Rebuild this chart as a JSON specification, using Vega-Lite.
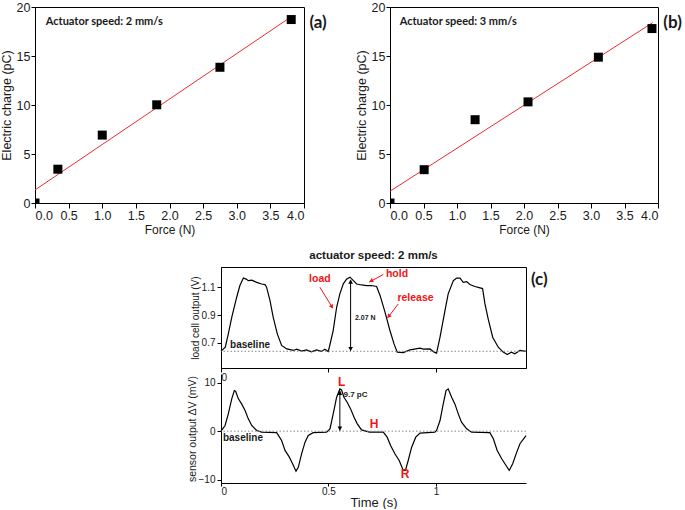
{
  "$schema": "https://vega.github.io/schema/vega-lite/v6.json",
  "background": "white",
  "padding": {"left": 0, "top": 0, "right": 0, "bottom": 0},
  "spacing": 13,
  "config": {
    "view": {"stroke": "black", "strokeWidth": 1},
    "axis": {"domainColor": "black", "tickColor": "black", "grid": false, "labelColor": "#1a1a1a", "titleColor": "#1a1a1a", "labelFont": "Liberation Sans", "titleFont": "Liberation Sans", "titleFontWeight": "normal", "labelOverlap": false}
  },
  "datasets": {
    "a_pts": [{"F": 0, "Q": 0}, {"F": 0.34, "Q": 3.45}, {"F": 1.0, "Q": 6.93}, {"F": 1.81, "Q": 10.02}, {"F": 2.75, "Q": 13.85}, {"F": 3.81, "Q": 18.72}],
    "a_fit": [{"F": 0, "Q": 1.33}, {"F": 3.82, "Q": 19.05}],
    "b_pts": [{"F": 0, "Q": 0}, {"F": 0.51, "Q": 3.4}, {"F": 1.27, "Q": 8.5}, {"F": 2.06, "Q": 10.32}, {"F": 3.11, "Q": 14.88}, {"F": 3.91, "Q": 17.8}],
    "b_fit": [{"F": 0, "Q": 1.2}, {"F": 3.92, "Q": 18.4}],
    "load": [
      {"t": 0, "V": 0.641}, {"t": 0.02, "V": 0.669}, {"t": 0.034, "V": 0.765}, {"t": 0.05, "V": 0.884}, {"t": 0.073, "V": 1.028}, {"t": 0.088, "V": 1.112}, {"t": 0.104, "V": 1.166}, {"t": 0.117, "V": 1.158}, {"t": 0.127, "V": 1.147}, {"t": 0.143, "V": 1.151}, {"t": 0.166, "V": 1.135}, {"t": 0.189, "V": 1.123}, {"t": 0.205, "V": 1.119}, {"t": 0.212, "V": 1.1}, {"t": 0.228, "V": 1.004}, {"t": 0.243, "V": 0.884}, {"t": 0.262, "V": 0.765}, {"t": 0.282, "V": 0.682}, {"t": 0.306, "V": 0.657}, {"t": 0.337, "V": 0.646}, {"t": 0.352, "V": 0.655}, {"t": 0.375, "V": 0.641}, {"t": 0.398, "V": 0.65}, {"t": 0.421, "V": 0.636}, {"t": 0.444, "V": 0.65}, {"t": 0.468, "V": 0.639}, {"t": 0.483, "V": 0.655}, {"t": 0.499, "V": 0.639},
      {"t": 0.504, "V": 0.669}, {"t": 0.522, "V": 0.789}, {"t": 0.538, "V": 0.956}, {"t": 0.553, "V": 1.052}, {"t": 0.569, "V": 1.124}, {"t": 0.584, "V": 1.158}, {"t": 0.6, "V": 1.172}, {"t": 0.616, "V": 1.147}, {"t": 0.631, "V": 1.123}, {"t": 0.654, "V": 1.116}, {"t": 0.677, "V": 1.112}, {"t": 0.7, "V": 1.112}, {"t": 0.724, "V": 1.105}, {"t": 0.74, "V": 1.041}, {"t": 0.763, "V": 0.921}, {"t": 0.786, "V": 0.789}, {"t": 0.805, "V": 0.693}, {"t": 0.82, "V": 0.634}, {"t": 0.848, "V": 0.631}, {"t": 0.879, "V": 0.65}, {"t": 0.926, "V": 0.662}, {"t": 0.941, "V": 0.655}, {"t": 0.972, "V": 0.657}, {"t": 0.992, "V": 0.634},
      {"t": 1.003, "V": 0.627}, {"t": 1.019, "V": 0.741}, {"t": 1.042, "V": 0.932}, {"t": 1.057, "V": 1.052}, {"t": 1.081, "V": 1.147}, {"t": 1.096, "V": 1.165}, {"t": 1.112, "V": 1.165}, {"t": 1.127, "V": 1.135}, {"t": 1.143, "V": 1.14}, {"t": 1.158, "V": 1.119}, {"t": 1.181, "V": 1.105}, {"t": 1.205, "V": 1.095}, {"t": 1.217, "V": 1.09}, {"t": 1.228, "V": 0.98}, {"t": 1.243, "V": 0.873}, {"t": 1.264, "V": 0.741}, {"t": 1.29, "V": 0.669}, {"t": 1.313, "V": 0.634}, {"t": 1.332, "V": 0.617}, {"t": 1.351, "V": 0.634}, {"t": 1.367, "V": 0.622}, {"t": 1.391, "V": 0.646}, {"t": 1.419, "V": 0.64}
    ],
    "sensor": [
      {"t": 0, "mV": 0}, {"t": 0.019, "mV": 1.17}, {"t": 0.034, "mV": 3.57}, {"t": 0.05, "mV": 6.67}, {"t": 0.062, "mV": 8.38}, {"t": 0.068, "mV": 8.25}, {"t": 0.081, "mV": 6.67}, {"t": 0.096, "mV": 5.63}, {"t": 0.112, "mV": 4.26}, {"t": 0.127, "mV": 2.54}, {"t": 0.143, "mV": 1.17}, {"t": 0.166, "mV": 0.14}, {"t": 0.189, "mV": -0.2}, {"t": 0.259, "mV": -0.3}, {"t": 0.282, "mV": -1.92}, {"t": 0.298, "mV": -3.98}, {"t": 0.318, "mV": -5.36}, {"t": 0.333, "mV": -6.74}, {"t": 0.349, "mV": -8.25}, {"t": 0.36, "mV": -7.42}, {"t": 0.375, "mV": -4.67}, {"t": 0.391, "mV": -2.27}, {"t": 0.406, "mV": -0.89}, {"t": 0.429, "mV": -0.3}, {"t": 0.491, "mV": -0.2},
      {"t": 0.507, "mV": 0.48}, {"t": 0.522, "mV": 3.57}, {"t": 0.538, "mV": 7.0}, {"t": 0.553, "mV": 8.73}, {"t": 0.561, "mV": 8.5}, {"t": 0.572, "mV": 7.0}, {"t": 0.587, "mV": 5.98}, {"t": 0.603, "mV": 4.6}, {"t": 0.619, "mV": 2.89}, {"t": 0.634, "mV": 1.51}, {"t": 0.654, "mV": 0.27}, {"t": 0.691, "mV": -0.2}, {"t": 0.755, "mV": -0.2}, {"t": 0.773, "mV": -1.24}, {"t": 0.789, "mV": -2.95}, {"t": 0.809, "mV": -4.67}, {"t": 0.829, "mV": -6.05}, {"t": 0.848, "mV": -8.11}, {"t": 0.858, "mV": -8.1}, {"t": 0.871, "mV": -6.05}, {"t": 0.887, "mV": -3.3}, {"t": 0.906, "mV": -1.24}, {"t": 0.926, "mV": -0.4}, {"t": 0.995, "mV": -0.2},
      {"t": 1.003, "mV": 0.14}, {"t": 1.019, "mV": 2.2}, {"t": 1.034, "mV": 5.63}, {"t": 1.047, "mV": 8.38}, {"t": 1.057, "mV": 8.73}, {"t": 1.073, "mV": 7.0}, {"t": 1.088, "mV": 5.63}, {"t": 1.104, "mV": 3.57}, {"t": 1.119, "mV": 1.86}, {"t": 1.143, "mV": 0.48}, {"t": 1.166, "mV": -0.2}, {"t": 1.251, "mV": -0.3}, {"t": 1.267, "mV": -1.58}, {"t": 1.285, "mV": -3.98}, {"t": 1.306, "mV": -5.7}, {"t": 1.326, "mV": -7.08}, {"t": 1.341, "mV": -8.1}, {"t": 1.357, "mV": -6.74}, {"t": 1.376, "mV": -4.33}, {"t": 1.391, "mV": -2.6}, {"t": 1.419, "mV": -0.9}
    ]
  },
  "vconcat": [
    {
      "bounds": "flush",
      "spacing": 86,
      "hconcat": [
        {
          "width": 269, "height": 196,
          "layer": [
            {"data": {"name": "a_fit"}, "mark": {"type": "line", "color": "#ee2a2a", "strokeWidth": 1},
              "encoding": {
                "x": {"field": "F", "type": "quantitative", "scale": {"domain": [0, 4], "nice": false}, "title": "Force (N)",
                  "axis": {"values": [0, 0.5, 1, 1.5, 2, 2.5, 3, 3.5, 4], "format": ".1f", "labelOverlap": false, "tickSize": 5, "labelFontSize": 12.5, "titleFontSize": 12, "labelPadding": 1, "titlePadding": 3}},
                "y": {"field": "Q", "type": "quantitative", "scale": {"domain": [0, 20], "nice": false}, "title": "Electric charge (pC)",
                  "axis": {"values": [0, 2.5, 5, 7.5, 10, 12.5, 15, 17.5, 20], "labelOverlap": false, "labelExpr": "datum.value % 5 === 0 ? format(datum.value, 'd') : ''", "tickSize": {"condition": {"test": "datum.value % 5 === 0", "value": 4}, "value": 2.5}, "labelFontSize": 12.5, "titleFontSize": 12.5, "labelPadding": 1, "titlePadding": 2.5}}
              }},
            {"data": {"name": "a_pts"}, "mark": {"type": "point", "shape": "square", "filled": true, "color": "black", "opacity": 1, "size": 81, "clip": true},
              "encoding": {
                "x": {"field": "F", "type": "quantitative", "scale": {"domain": [0, 4], "nice": false}, "title": "Force (N)",
                  "axis": {"values": [0, 0.5, 1, 1.5, 2, 2.5, 3, 3.5, 4], "format": ".1f", "labelOverlap": false, "tickSize": 5, "labelFontSize": 12.5, "titleFontSize": 12, "labelPadding": 1, "titlePadding": 3}},
                "y": {"field": "Q", "type": "quantitative", "scale": {"domain": [0, 20], "nice": false}, "title": "Electric charge (pC)",
                  "axis": {"values": [0, 2.5, 5, 7.5, 10, 12.5, 15, 17.5, 20], "labelOverlap": false, "labelExpr": "datum.value % 5 === 0 ? format(datum.value, 'd') : ''", "tickSize": {"condition": {"test": "datum.value % 5 === 0", "value": 4}, "value": 2.5}, "labelFontSize": 12.5, "titleFontSize": 12.5, "labelPadding": 1, "titlePadding": 2.5}}
              }},
            {"data": {"values": [{}]}, "mark": {"type": "text", "align": "left", "baseline": "middle", "font": "Lato", "fontWeight": "bold", "fontSize": 11, "color": "#1a1a1a"},
              "encoding": {
                "x": {"datum": 0.16, "title": "Force (N)", "axis": {"values": [0, 0.5, 1, 1.5, 2, 2.5, 3, 3.5, 4], "format": ".1f", "labelOverlap": false, "tickSize": 5, "labelFontSize": 12.5, "titleFontSize": 12, "labelPadding": 1, "titlePadding": 3}},
                "y": {"datum": 18.5}, "text": {"value": "Actuator speed: 2 mm/s"}}},
            {"data": {"values": [{}]}, "mark": {"type": "text", "align": "left", "baseline": "middle", "font": "Lato", "fontWeight": "bold", "fontSize": 17, "color": "#1a1a1a"},
              "encoding": {
                "x": {"datum": 4.08, "title": "Force (N)", "axis": {"values": [0, 0.5, 1, 1.5, 2, 2.5, 3, 3.5, 4], "format": ".1f", "labelOverlap": false, "tickSize": 5, "labelFontSize": 12.5, "titleFontSize": 12, "labelPadding": 1, "titlePadding": 3}},
                "y": {"datum": 18.4}, "text": {"value": "(a)"}}}
          ]
        },
        {
          "width": 268, "height": 196,
          "layer": [
            {"data": {"name": "b_fit"}, "mark": {"type": "line", "color": "#ee2a2a", "strokeWidth": 1},
              "encoding": {
                "x": {"field": "F", "type": "quantitative", "scale": {"domain": [0, 4], "nice": false}, "title": "Force (N)",
                  "axis": {"values": [0, 0.5, 1, 1.5, 2, 2.5, 3, 3.5, 4], "format": ".1f", "labelOverlap": false, "tickSize": 5, "labelFontSize": 12.5, "titleFontSize": 12, "labelPadding": 1, "titlePadding": 3}},
                "y": {"field": "Q", "type": "quantitative", "scale": {"domain": [0, 20], "nice": false}, "title": "Electric charge (pC)",
                  "axis": {"values": [0, 2.5, 5, 7.5, 10, 12.5, 15, 17.5, 20], "labelOverlap": false, "labelExpr": "datum.value % 5 === 0 ? format(datum.value, 'd') : ''", "tickSize": {"condition": {"test": "datum.value % 5 === 0", "value": 4}, "value": 2.5}, "labelFontSize": 12.5, "titleFontSize": 12.5, "labelPadding": 1, "titlePadding": 2.5}}
              }},
            {"data": {"name": "b_pts"}, "mark": {"type": "point", "shape": "square", "filled": true, "color": "black", "opacity": 1, "size": 81, "clip": true},
              "encoding": {
                "x": {"field": "F", "type": "quantitative", "scale": {"domain": [0, 4], "nice": false}, "title": "Force (N)",
                  "axis": {"values": [0, 0.5, 1, 1.5, 2, 2.5, 3, 3.5, 4], "format": ".1f", "labelOverlap": false, "tickSize": 5, "labelFontSize": 12.5, "titleFontSize": 12, "labelPadding": 1, "titlePadding": 3}},
                "y": {"field": "Q", "type": "quantitative", "scale": {"domain": [0, 20], "nice": false}, "title": "Electric charge (pC)",
                  "axis": {"values": [0, 2.5, 5, 7.5, 10, 12.5, 15, 17.5, 20], "labelOverlap": false, "labelExpr": "datum.value % 5 === 0 ? format(datum.value, 'd') : ''", "tickSize": {"condition": {"test": "datum.value % 5 === 0", "value": 4}, "value": 2.5}, "labelFontSize": 12.5, "titleFontSize": 12.5, "labelPadding": 1, "titlePadding": 2.5}}
              }},
            {"data": {"values": [{}]}, "mark": {"type": "text", "align": "left", "baseline": "middle", "font": "Lato", "fontWeight": "bold", "fontSize": 11, "color": "#1a1a1a"},
              "encoding": {
                "x": {"datum": 0.145, "title": "Force (N)", "axis": {"values": [0, 0.5, 1, 1.5, 2, 2.5, 3, 3.5, 4], "format": ".1f", "labelOverlap": false, "tickSize": 5, "labelFontSize": 12.5, "titleFontSize": 12, "labelPadding": 1, "titlePadding": 3}},
                "y": {"datum": 18.5}, "text": {"value": "Actuator speed: 3 mm/s"}}},
            {"data": {"values": [{}]}, "mark": {"type": "text", "align": "left", "baseline": "middle", "font": "Lato", "fontWeight": "bold", "fontSize": 17, "color": "#1a1a1a"},
              "encoding": {
                "x": {"datum": 4.08, "title": "Force (N)", "axis": {"values": [0, 0.5, 1, 1.5, 2, 2.5, 3, 3.5, 4], "format": ".1f", "labelOverlap": false, "tickSize": 5, "labelFontSize": 12.5, "titleFontSize": 12, "labelPadding": 1, "titlePadding": 3}},
                "y": {"datum": 18.4}, "text": {"value": "(b)"}}}
          ]
        }
      ]
    },
    {
      "spacing": 10,
      "hconcat": [
        {"width": 142, "height": 20, "view": {"stroke": null}, "data": {"values": [{}]}, "mark": "text", "encoding": {"text": {"value": ""}}},
        {
          "bounds": "flush",
          "spacing": 6,
          "vconcat": [
            {
              "width": 305, "height": 101,
              "title": {"text": "actuator speed: 2 mm/s", "font": "Liberation Sans", "fontSize": 11.5, "fontWeight": "bold", "color": "#1a1a1a", "offset": 6, "anchor": "middle"},
              "layer": [
                {"data": {"name": "load"}, "mark": {"type": "line", "color": "black", "strokeWidth": 1.2},
                  "encoding": {
                    "x": {"field": "t", "type": "quantitative", "scale": {"domain": [0, 1.419], "nice": false}, "title": null,
                      "axis": {"values": [0, 0.5, 1], "labelExpr": "datum.value === 0 ? '0' : ''", "tickSize": 4, "labelFontSize": 10, "labelPadding": 0}},
                    "y": {"field": "V", "type": "quantitative", "scale": {"domain": [0.52, 1.245], "nice": false, "zero": false}, "title": "load cell output (V)",
                      "axis": {"values": [0.7, 0.9, 1.1], "format": ".1f", "tickSize": 4, "labelFontSize": 10, "labelPadding": 2, "titleFontSize": 10, "titlePadding": 1}}
                  }},
                {"data": {"values": [{}]}, "mark": {"type": "rule", "color": "#888", "strokeDash": [1.5, 2], "strokeWidth": 1},
                  "encoding": {"y": {"datum": 0.64}}},
                {"data": {"values": [{}]}, "mark": {"type": "rule", "color": "black", "strokeWidth": 1},
                  "encoding": {"x": {"datum": 0.603}, "y": {"datum": 1.15}, "y2": {"datum": 0.645}}},
                {"data": {"values": [{}]}, "mark": {"type": "point", "shape": "triangle-up", "filled": true, "color": "black", "opacity": 1, "size": 22},
                  "encoding": {"x": {"datum": 0.603}, "y": {"datum": 1.14}}},
                {"data": {"values": [{}]}, "mark": {"type": "point", "shape": "triangle-down", "filled": true, "color": "black", "opacity": 1, "size": 22},
                  "encoding": {"x": {"datum": 0.603}, "y": {"datum": 0.657}}},
                {"data": {"values": [{}]}, "mark": {"type": "rule", "color": "#f01515", "strokeWidth": 1},
                  "encoding": {"x": {"datum": 0.46}, "y": {"datum": 1.10}, "x2": {"datum": 0.52}, "y2": {"datum": 0.95}}},
                {"data": {"values": [{}]}, "mark": {"type": "point", "shape": "triangle-up", "filled": true, "color": "#f01515", "opacity": 1, "size": 22, "angle": 148},
                  "encoding": {"x": {"datum": 0.516}, "y": {"datum": 0.959}}},
                {"data": {"values": [{}]}, "mark": {"type": "rule", "color": "#f01515", "strokeWidth": 1},
                  "encoding": {"x": {"datum": 0.755}, "y": {"datum": 1.191}, "x2": {"datum": 0.69}, "y2": {"datum": 1.137}}},
                {"data": {"values": [{}]}, "mark": {"type": "point", "shape": "triangle-up", "filled": true, "color": "#f01515", "opacity": 1, "size": 22, "angle": 242},
                  "encoding": {"x": {"datum": 0.698}, "y": {"datum": 1.145}}},
                {"data": {"values": [{}]}, "mark": {"type": "rule", "color": "#f01515", "strokeWidth": 1},
                  "encoding": {"x": {"datum": 0.825}, "y": {"datum": 0.98}, "x2": {"datum": 0.775}, "y2": {"datum": 0.88}}},
                {"data": {"values": [{}]}, "mark": {"type": "point", "shape": "triangle-up", "filled": true, "color": "#f01515", "opacity": 1, "size": 22, "angle": 218},
                  "encoding": {"x": {"datum": 0.78}, "y": {"datum": 0.891}}},
                {"data": {"values": [{}]}, "mark": {"type": "text", "align": "center", "baseline": "middle", "font": "Liberation Sans", "fontWeight": "bold", "fontSize": 10.5, "color": "#f01515"},
                  "encoding": {"x": {"datum": 0.46}, "y": {"datum": 1.157}, "text": {"value": "load"}}},
                {"data": {"values": [{}]}, "mark": {"type": "text", "align": "center", "baseline": "middle", "font": "Liberation Sans", "fontWeight": "bold", "fontSize": 10.5, "color": "#f01515"},
                  "encoding": {"x": {"datum": 0.819}, "y": {"datum": 1.193}, "text": {"value": "hold"}}},
                {"data": {"values": [{}]}, "mark": {"type": "text", "align": "center", "baseline": "middle", "font": "Liberation Sans", "fontWeight": "bold", "fontSize": 10.5, "color": "#f01515"},
                  "encoding": {"x": {"datum": 0.905}, "y": {"datum": 1.021}, "text": {"value": "release"}}},
                {"data": {"values": [{}]}, "mark": {"type": "text", "align": "left", "baseline": "middle", "font": "Liberation Sans", "fontWeight": "bold", "fontSize": 7, "color": "#1a1a1a"},
                  "encoding": {"x": {"datum": 0.623}, "y": {"datum": 0.88}, "text": {"value": "2.07 N"}}},
                {"data": {"values": [{}]}, "mark": {"type": "text", "align": "left", "baseline": "middle", "font": "Liberation Sans", "fontWeight": "bold", "fontSize": 10, "color": "#1a1a1a"},
                  "encoding": {"x": {"datum": 0.042}, "y": {"datum": 0.684}, "text": {"value": "baseline"}}},
                {"data": {"values": [{}]}, "mark": {"type": "text", "align": "left", "baseline": "middle", "font": "Lato", "fontWeight": "bold", "fontSize": 17, "color": "#1a1a1a"},
                  "encoding": {"x": {"datum": 1.442}, "y": {"datum": 1.15}, "text": {"value": "(c)"}}}
              ]
            },
            {
              "width": 305, "height": 109,
              "view": {"stroke": null},
              "layer": [
                {"data": {"name": "sensor"}, "mark": {"type": "line", "color": "black", "strokeWidth": 1.2},
                  "encoding": {
                    "x": {"field": "t", "type": "quantitative", "scale": {"domain": [0, 1.419], "nice": false}, "title": "Time (s)",
                      "axis": {"values": [0, 0.5, 1], "format": "~g", "tickSize": 3, "labelFontSize": 10, "labelPadding": 0, "titleFontSize": 13, "titlePadding": 0}},
                    "y": {"field": "mV", "type": "quantitative", "scale": {"domain": [-10.7, 11.8], "nice": false}, "title": "sensor output ΔV (mV)",
                      "axis": {"values": [-10, -5, 0, 5, 10], "tickSize": 4, "labelFontSize": 10, "labelPadding": 2, "titleFontSize": 10.5, "titlePadding": 1}}
                  }},
                {"data": {"values": [{}]}, "mark": {"type": "rule", "color": "#888", "strokeDash": [1.5, 2], "strokeWidth": 1},
                  "encoding": {"y": {"datum": 0}}},
                {"data": {"values": [{}]}, "mark": {"type": "rule", "color": "black", "strokeWidth": 1},
                  "encoding": {"x": {"datum": 0.553}, "y": {"datum": 8.4}, "y2": {"datum": 0.1}}},
                {"data": {"values": [{}]}, "mark": {"type": "point", "shape": "triangle-down", "filled": true, "color": "black", "opacity": 1, "size": 22},
                  "encoding": {"x": {"datum": 0.553}, "y": {"datum": 0.55}}},
                {"data": {"values": [{}]}, "mark": {"type": "point", "shape": "triangle-up", "filled": true, "color": "black", "opacity": 1, "size": 22},
                  "encoding": {"x": {"datum": 0.553}, "y": {"datum": 7.9}}},
                {"data": {"values": [{}]}, "mark": {"type": "text", "align": "center", "baseline": "middle", "font": "Liberation Sans", "fontWeight": "bold", "fontSize": 12, "color": "#f01515"},
                  "encoding": {"x": {"datum": 0.561}, "y": {"datum": 10.1}, "text": {"value": "L"}}},
                {"data": {"values": [{}]}, "mark": {"type": "text", "align": "center", "baseline": "middle", "font": "Liberation Sans", "fontWeight": "bold", "fontSize": 12, "color": "#f01515"},
                  "encoding": {"x": {"datum": 0.712}, "y": {"datum": 1.4}, "text": {"value": "H"}}},
                {"data": {"values": [{}]}, "mark": {"type": "text", "align": "center", "baseline": "middle", "font": "Liberation Sans", "fontWeight": "bold", "fontSize": 12, "color": "#f01515"},
                  "encoding": {"x": {"datum": 0.856}, "y": {"datum": -8.9}, "text": {"value": "R"}}},
                {"data": {"values": [{}]}, "mark": {"type": "text", "align": "left", "baseline": "middle", "font": "Liberation Sans", "fontWeight": "bold", "fontSize": 8, "color": "#1a1a1a"},
                  "encoding": {"x": {"datum": 0.57}, "y": {"datum": 7.5}, "text": {"value": "9.7 pC"}}},
                {"data": {"values": [{}]}, "mark": {"type": "text", "align": "left", "baseline": "middle", "font": "Liberation Sans", "fontWeight": "bold", "fontSize": 10, "color": "#1a1a1a"},
                  "encoding": {"x": {"datum": 0.009}, "y": {"datum": -1.5}, "text": {"value": "baseline"}}}
              ]
            }
          ]
        }
      ]
    }
  ]
}
